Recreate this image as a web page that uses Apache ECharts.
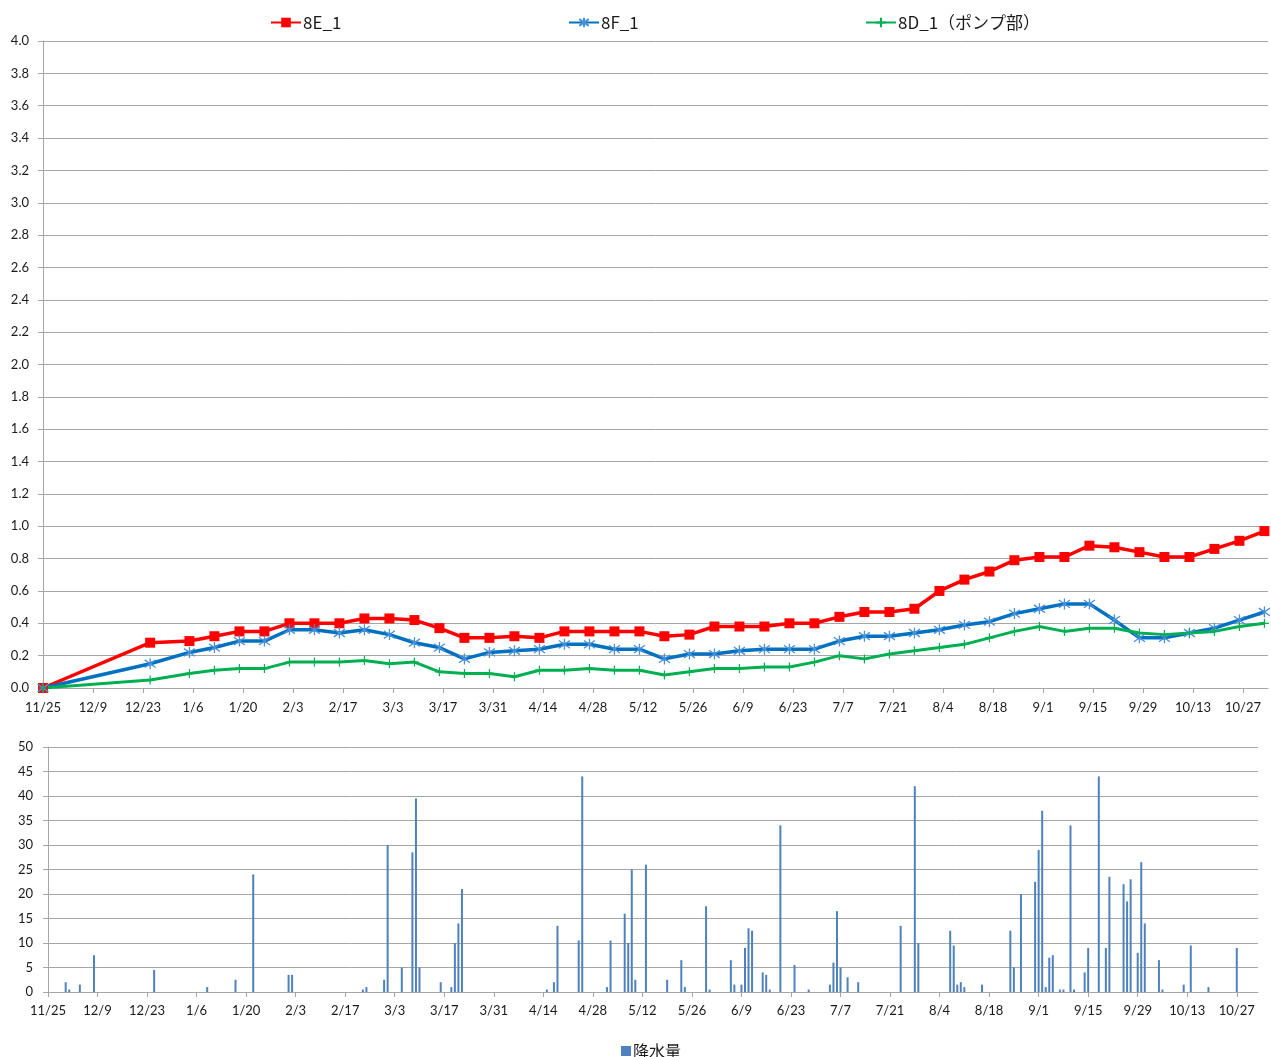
<!DOCTYPE html>
<html>
<head>
<meta charset="utf-8">
<title>8E_1 / 8F_1 / 8D_1 と降水量</title>
<script src="https://cdn.jsdelivr.net/npm/echarts@6/dist/echarts.min.js"></script>
<style>
    html, body { margin: 0; padding: 0; background: #fff; }
    #main { width: 1271px; height: 1057px; }
</style>
</head>
<body>
<div id="main"></div>
<script>
// 観測日 (M/D, 2012/11/25 から)
var obsDates = ['11/25','12/25','1/5','1/12','1/19','1/26','2/2','2/9','2/16','2/23','3/2','3/9',
    '3/16','3/23','3/30','4/6','4/13','4/20','4/27','5/4','5/11','5/18','5/25','6/1','6/8','6/15',
    '6/22','6/29','7/6','7/13','7/20','7/27','8/3','8/10','8/17','8/24','8/31','9/7','9/14','9/21',
    '9/28','10/5','10/12','10/19','10/26','11/2'];
var s8E = [0,0.28,0.29,0.32,0.35,0.35,0.40,0.40,0.40,0.43,0.43,0.42,0.37,0.31,0.31,0.32,0.31,0.35,
    0.35,0.35,0.35,0.32,0.33,0.38,0.38,0.38,0.40,0.40,0.44,0.47,0.47,0.49,0.60,0.67,0.72,0.79,0.81,
    0.81,0.88,0.87,0.84,0.81,0.81,0.86,0.91,0.97];
var s8F = [0,0.15,0.22,0.25,0.29,0.29,0.36,0.36,0.34,0.36,0.33,0.28,0.25,0.18,0.22,0.23,0.24,0.27,
    0.27,0.24,0.24,0.18,0.21,0.21,0.23,0.24,0.24,0.24,0.29,0.32,0.32,0.34,0.36,0.39,0.41,0.46,0.49,
    0.52,0.52,0.42,0.31,0.31,0.34,0.37,0.42,0.47];
var s8D = [0,0.05,0.09,0.11,0.12,0.12,0.16,0.16,0.16,0.17,0.15,0.16,0.10,0.09,0.09,0.07,0.11,0.11,
    0.12,0.11,0.11,0.08,0.10,0.12,0.12,0.13,0.13,0.16,0.20,0.18,0.21,0.23,0.25,0.27,0.31,0.35,0.38,
    0.35,0.37,0.37,0.34,0.33,0.34,0.35,0.38,0.40];

// 降水量 (雨の日のみ)
var rainDates = ['11/30','12/1','12/4','12/8','12/25','1/9','1/17','1/22','2/1','2/2','2/22','2/23',
    '2/28','3/1','3/5','3/8','3/9','3/10','3/16','3/19','3/20','3/21','3/22','4/15','4/17','4/18',
    '4/24','4/25','5/2','5/3','5/7','5/8','5/9','5/10','5/13','5/19','5/23','5/24','5/30','5/31',
    '6/6','6/7','6/9','6/10','6/11','6/12','6/15','6/16','6/17','6/20','6/24','6/28','7/4','7/5',
    '7/6','7/7','7/9','7/12','7/24','7/28','7/29','8/7','8/8','8/9','8/10','8/11','8/16','8/24',
    '8/25','8/27','8/31','9/1','9/2','9/3','9/4','9/5','9/7','9/8','9/10','9/11','9/14','9/15',
    '9/18','9/20','9/21','9/25','9/26','9/27','9/29','9/30','10/1','10/5','10/6','10/12','10/14',
    '10/19','10/27'];
var rainMm = [2,0.5,1.5,7.5,4.5,1,2.5,24,3.5,3.5,0.5,1,
    2.5,30,5,28.5,39.5,5,2,1,10,14,21,0.5,2,13.5,
    10.5,44,1,10.5,16,10,25,2.5,26,2.5,6.5,1,17.5,0.5,
    6.5,1.5,1.5,9,13,12.5,4,3.5,0.5,34,5.5,0.5,1.5,6,
    16.5,5,3,2,13.5,42,10,12.5,9.5,1.5,2,1,1.5,12.5,
    5,20,22.5,29,37,1,7,7.5,0.5,0.5,34,0.5,4,9,
    44,9,23.5,22,18.5,23,8,26.5,14,6.5,0.5,1.5,9.5,
    1,9];

var START = Date.UTC(2012, 10, 25);
var DAY = 86400000;
var tickDays = [];
for (var t = 0; t <= 336; t += 14) tickDays.push(t);

// M/D の並びを 11/25 からの日数へ (月が戻ったら年を進める)
function toDays(list) {
    var year = 2012, prev = 0;
    return list.map(function (s) {
        var p = s.split('/');
        var m = +p[0], d = +p[1];
        if (m < prev) year++;
        prev = m;
        return (Date.UTC(year, m - 1, d) - START) / DAY;
    });
}
function dayLabel(v) {
    var dt = new Date(START + Math.round(v) * DAY);
    return (dt.getUTCMonth() + 1) + '/' + dt.getUTCDate();
}
function pairs(xs, ys) {
    return xs.map(function (x, i) { return [x, ys[i]]; });
}

var obsDays = toDays(obsDates);
var rainDays = toDays(rainDates);

var FONT = 'Lato, "Noto Sans CJK JP", sans-serif';
var LEGEND_FONT = '"Noto Sans CJK JP", sans-serif';
var GRID_COLOR = '#a6a6a6';
var TEXT_COLOR = '#1a1a1a';

function xAxisFor(gridIndex, max, margin) {
    return {
        type: 'value', gridIndex: gridIndex, min: 0, max: max,
        axisLine: { show: true, lineStyle: { color: GRID_COLOR } },
        axisTick: { show: true, length: 5, lineStyle: { color: GRID_COLOR }, customValues: tickDays },
        axisLabel: { color: TEXT_COLOR, fontSize: 13, fontFamily: FONT, margin: margin,
            customValues: tickDays, formatter: dayLabel },
        splitLine: { show: false }
    };
}
function legendFor(name, left) {
    return { data: [name], left: left, top: 9, itemWidth: 30, itemHeight: 12,
        textStyle: { fontSize: 17, color: TEXT_COLOR, fontFamily: LEGEND_FONT, padding: [0, 0, 0, -3] } };
}

var chart = echarts.init(document.getElementById('main'));
chart.setOption({
    animation: false,
    textStyle: { fontFamily: FONT },
    legend: [
        legendFor('8E_1', 265),
        legendFor('8F_1', 563),
        legendFor('8D_1（ポンプ部）', 860),
        { data: ['降水量'], left: 616, top: 1038, icon: 'rect', itemWidth: 10, itemHeight: 10,
          textStyle: { fontSize: 16, color: TEXT_COLOR, fontFamily: LEGEND_FONT, padding: [0, 0, 0, -3] } }
    ],
    grid: [
        { left: 43, right: 3, top: 41, bottom: 369 },
        { left: 48, right: 13, top: 747, bottom: 65 }
    ],
    xAxis: [xAxisFor(0, 343, 13), xAxisFor(1, 342, 12)],
    yAxis: [
        { type: 'value', gridIndex: 0, min: 0, max: 4, interval: 0.2,
          axisLine: { show: true, lineStyle: { color: GRID_COLOR } },
          axisTick: { show: true, length: 5, lineStyle: { color: GRID_COLOR } },
          axisLabel: { color: TEXT_COLOR, fontSize: 13, fontFamily: FONT, margin: 14,
              formatter: function (v) { return v.toFixed(1); } },
          splitLine: { lineStyle: { color: GRID_COLOR } } },
        { type: 'value', gridIndex: 1, min: 0, max: 50, interval: 5,
          axisLine: { show: true, lineStyle: { color: GRID_COLOR } },
          axisTick: { show: true, length: 5, lineStyle: { color: GRID_COLOR } },
          axisLabel: { color: TEXT_COLOR, fontSize: 13, fontFamily: FONT, margin: 15 },
          splitLine: { lineStyle: { color: GRID_COLOR } } }
    ],
    series: [
        {
            name: '8E_1', type: 'line', xAxisIndex: 0, yAxisIndex: 0,
            data: pairs(obsDays, s8E),
            symbol: 'rect', symbolSize: 10,
            lineStyle: { color: '#ff0000', width: 3.5 },
            itemStyle: { color: '#ff0000' }
        },
        {
            name: '8F_1', type: 'line', xAxisIndex: 0, yAxisIndex: 0,
            data: pairs(obsDays, s8F),
            symbol: 'path://M5 0L5 10M0.7 1.5L9.3 8.5M9.3 1.5L0.7 8.5', symbolSize: 11,
            lineStyle: { color: '#0070c0', width: 3.5 },
            itemStyle: { color: 'rgba(0,0,0,0)', borderColor: '#4a90d9', borderWidth: 1.3 }
        },
        {
            name: '8D_1（ポンプ部）', type: 'line', xAxisIndex: 0, yAxisIndex: 0,
            data: pairs(obsDays, s8D),
            symbol: 'path://M5 0L5 10M0 5L10 5', symbolSize: 9,
            lineStyle: { color: '#00b050', width: 3 },
            itemStyle: { color: 'rgba(0,0,0,0)', borderColor: '#00b050', borderWidth: 1.2 }
        },
        {
            name: '降水量', type: 'bar', xAxisIndex: 1, yAxisIndex: 1,
            data: pairs(rainDays, rainMm),
            barWidth: 2,
            itemStyle: { color: '#4f81bd' }
        }
    ]
});
</script>
</body>
</html>
